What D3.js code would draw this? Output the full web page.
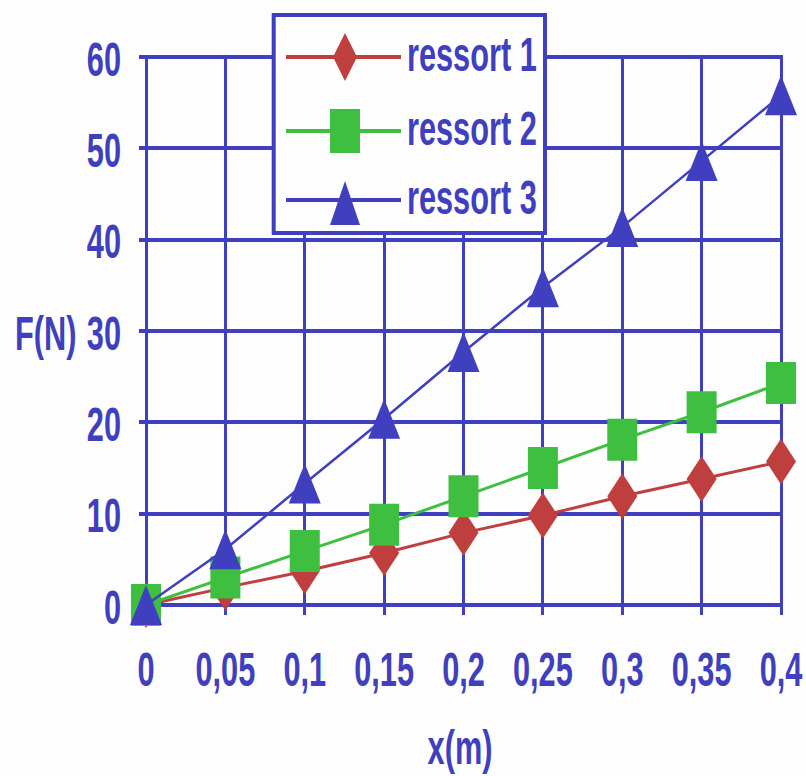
<!DOCTYPE html>
<html>
<head>
<meta charset="utf-8">
<script src="https://cdn.jsdelivr.net/npm/d3@7"></script>
<style>
  html, body { margin: 0; padding: 0; background: #fdfdfd; }
  svg { display: block; }
  text { font-family: "Liberation Sans", Arial, sans-serif; font-weight: bold; }
</style>
</head>
<body>
<svg id="chart" width="806" height="776"></svg>
<script>
// ---- data ----
const xValues = [0, 0.05, 0.1, 0.15, 0.2, 0.25, 0.3, 0.35, 0.4];
const xTickLabels = ["0", "0,05", "0,1", "0,15", "0,2", "0,25", "0,3", "0,35", "0,4"];
const yTicks = [0, 10, 20, 30, 40, 50, 60];
const seriesNames = ["ressort 1", "ressort 2", "ressort 3"];
const ressort1 = [0, 1.9, 3.7, 5.7, 7.9, 9.8, 11.9, 13.8, 15.7];
const ressort2 = [0, 3.0, 5.9, 8.8, 11.9, 15.0, 18.1, 21.1, 24.3];
const ressort3 = [0, 6.1, 13.3, 20.4, 27.7, 34.8, 41.4, 48.6, 55.8];
const xLabel = "x(m)";
const yLabel = "F(N)";

// ---- styles ----
const BLUE = "#3f3fbf", RED = "#bf3f3f", GREEN = "#3fbf3f";
const colors = [RED, GREEN, BLUE];
const shapes = ["diamond", "square", "triangle"];
const SX = 0.64; // horizontal condensation of the font
const FS = 48;

const svg = d3.select("#chart");
const x = d3.scaleLinear().domain([0, 0.4]).range([146, 781]);
const y = d3.scaleLinear().domain([0, 60]).range([605, 57]);

// grid
const grid = svg.append("g").attr("shape-rendering", "crispEdges");
grid.selectAll("line.h").data(yTicks).enter().append("line")
  .attr("x1", 139).attr("x2", x(0.4) + 1.5)
  .attr("y1", d => y(d)).attr("y2", d => y(d))
  .attr("stroke", BLUE).attr("stroke-width", 4);
grid.selectAll("line.v").data(xValues).enter().append("line")
  .attr("x1", d => x(d)).attr("x2", d => x(d))
  .attr("y1", y(60)).attr("y2", y(0) + 10)
  .attr("stroke", BLUE).attr("stroke-width", 3);

function condensedText(parent, px, py, str, anchor) {
  parent.append("g").attr("transform", `translate(${px},${py}) scale(${SX},1)`)
    .append("text").attr("x", 0).attr("y", 0)
    .attr("text-anchor", anchor).attr("font-size", FS).attr("fill", BLUE)
    .text(str);
}

// y tick labels
yTicks.forEach(t => condensedText(svg, 121, y(t) + 18.5, String(t), "end"));
// x tick labels
xValues.forEach((v, i) => condensedText(svg, x(v), 686, xTickLabels[i], "middle"));
// axis titles
condensedText(svg, 15, 350, yLabel, "start");
condensedText(svg, 460, 764, xLabel, "middle");

// marker path generators
function markerPath(shape, w, h) {
  const a = w / 2, b = h / 2;
  if (shape === "diamond") return `M0,${-b}L${a},0L0,${b}L${-a},0Z`;
  if (shape === "square") return `M${-a},${-b}H${a}V${b}H${-a}Z`;
  return `M0,${-b}L${a},${b}L${-a},${b}Z`;
}
const markerSize = { diamond: [30, 46], square: [30, 42], triangle: [32, 40] };

const allSeries = [ressort1, ressort2, ressort3];
const line = d3.line().x((d, i) => x(xValues[i])).y(d => y(d));

allSeries.forEach((vals, s) => {
  const g = svg.append("g");
  g.append("path").attr("d", line(vals)).attr("fill", "none")
    .attr("stroke", colors[s]).attr("stroke-width", s === 2 ? 2.5 : 3);
  const [w, h] = markerSize[shapes[s]];
  g.selectAll("path.m").data(vals).enter().append("path")
    .attr("transform", (d, i) => `translate(${x(xValues[i])},${y(d)})`)
    .attr("d", markerPath(shapes[s], w, h))
    .attr("fill", colors[s]);
});

// legend
const lg = svg.append("g");
lg.append("rect").attr("x", 273.7).attr("y", 15).attr("width", 271.3).attr("height", 218)
  .attr("fill", "#fdfdfd").attr("stroke", BLUE).attr("stroke-width", 4);
const legendRows = [57, 131, 200];
const legendMarker = { diamond: [24, 48], square: [30, 44], triangle: [30, 44] };
seriesNames.forEach((name, s) => {
  const ry = legendRows[s];
  lg.append("line").attr("x1", 286).attr("x2", 401).attr("y1", ry).attr("y2", ry)
    .attr("stroke", colors[s]).attr("stroke-width", 4);
  const [w, h] = legendMarker[shapes[s]];
  lg.append("path").attr("transform", `translate(345,${ry + (s === 2 ? 3 : 0)})`)
    .attr("d", markerPath(shapes[s], w, h)).attr("fill", colors[s]);
  condensedText(lg, 407, ry + 14, name, "start");
});
</script>
</body>
</html>
